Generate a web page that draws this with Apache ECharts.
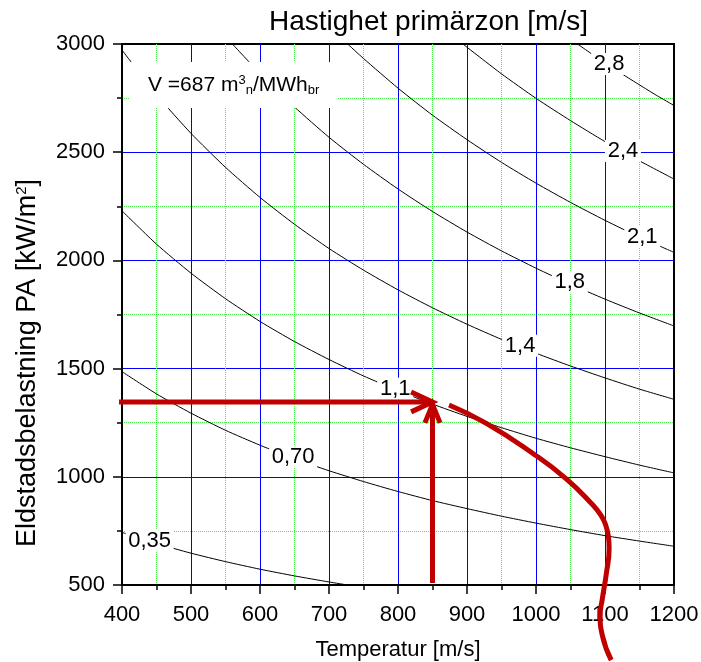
<!DOCTYPE html>
<html>
<head>
    <meta charset="utf-8">
    <script src="https://cdn.jsdelivr.net/npm/echarts@6/dist/echarts.min.js"></script>
    <style>
        html, body { margin: 0; padding: 0; background: #fff; }
        #chart { width: 701px; height: 662px; }
    </style>
</head>
<body>
<div id="chart"></div>
<script type="text/javascript">
    // axis ticks
    var tempTicks = [400, 500, 600, 700, 800, 900, 1000, 1100, 1200];
    var loadTicks = [500, 1000, 1500, 2000, 2500, 3000];

    // velocity curves (temperature / load pairs)
    var temps = [400, 450, 500, 550, 600, 650, 700, 750, 800, 850, 900, 950, 1000, 1050, 1100, 1150, 1200];
    var v035T = [400, 450, 500, 550, 600, 650, 700, 727];
    var v035P = [743, 692, 647, 608, 573, 542, 514, 500];
    var v070P = [1486, 1383, 1294, 1215, 1146, 1083, 1028, 978, 932, 890, 853, 818, 786, 756, 728, 703, 679];
    var v11P = [2229, 2075, 1941, 1823, 1718, 1625, 1542, 1466, 1398, 1336, 1279, 1227, 1178, 1134, 1093, 1054, 1018];
    var v14P = [2972, 2766, 2587, 2430, 2291, 2167, 2055, 1955, 1864, 1781, 1705, 1635, 1571, 1512, 1457, 1405, 1358];
    var v18T = [560, 600, 650, 700, 750, 800, 850, 900, 950, 1000, 1050, 1100, 1150, 1200];
    var v18P = [3000, 2864, 2709, 2569, 2444, 2330, 2226, 2131, 2044, 1964, 1890, 1821, 1757, 1697];
    var v21T = [727, 750, 800, 850, 900, 950, 1000, 1050, 1100, 1150, 1200];
    var v21P = [3000, 2933, 2796, 2671, 2558, 2453, 2357, 2268, 2185, 2108, 2037];
    var v24T = [894, 950, 1000, 1050, 1100, 1150, 1200];
    var v24P = [3000, 2862, 2749, 2646, 2549, 2460, 2376];
    var v28T = [1060, 1080, 1100, 1125, 1150, 1175, 1200];
    var v28P = [3000, 2956, 2913, 2861, 2811, 2762, 2716];

    // curve labels: text and where they sit
    var labelText = ['0,35', '0,70', '1,1', '1,4', '1,8', '2,1', '2,4', '2,8'];
    var labelT = [440, 648, 796, 977, 1049, 1154, 1126, 1106];
    var labelP = [705, 1093, 1407, 1606, 1901, 2109, 2506, 2908];

    // red hand drawn annotation
    var redCurveT = [874, 928, 995, 1043, 1080, 1094, 1101, 1105, 1106, 1102, 1096, 1093, 1096, 1109];
    var redCurveP = [1332, 1247, 1109, 993, 878, 823, 777, 723, 670, 554, 434, 361, 269, 153];
    var hArrowT = [392, 850];
    var hArrowP = [1346, 1346];
    var hHeadT = [819, 850, 819];
    var hHeadP = [1392, 1346, 1300];
    var vArrowT = [850, 850];
    var vArrowP = [509, 1334];
    var vHeadT = [839, 850, 861];
    var vHeadP = [1249, 1334, 1249];

    var FONT = 'Liberation Sans, Arial, sans-serif';

    function zip(a, b) {
        return a.map(function (v, i) { return [v, b[i]]; });
    }

    var curves = [
        [v035T, v035P], [temps, v070P], [temps, v11P], [temps, v14P],
        [v18T, v18P], [v21T, v21P], [v24T, v24P], [v28T, v28P]
    ];

    var series = curves.map(function (c, i) {
        var w = labelText[i].length > 3 ? 48 : 36;
        return {
            type: 'line',
            data: zip(c[0], c[1]),
            smooth: 0.2,
            symbol: 'none',
            lineStyle: { color: '#000', width: 1 },
            markPoint: {
                symbol: 'rect',
                symbolSize: [w, 22],
                itemStyle: { color: '#fff' },
                label: {
                    show: true,
                    position: 'inside',
                    formatter: '{b}',
                    color: '#000',
                    fontSize: 22,
                    fontFamily: FONT
                },
                data: [{ name: labelText[i], coord: [labelT[i], labelP[i]] }]
            }
        };
    });

    function redLine(t, p, smooth) {
        return {
            type: 'line',
            data: zip(t, p),
            smooth: smooth,
            symbol: 'none',
            clip: false,
            z: 10,
            lineStyle: { color: '#c00000', width: 5, cap: 'butt', join: 'miter' }
        };
    }
    series.push(redLine(redCurveT, redCurveP, 0.5));
    series.push(redLine(hArrowT, hArrowP, false));
    series.push(redLine(hHeadT, hHeadP, false));
    series.push(redLine(vArrowT, vArrowP, false));
    series.push(redLine(vHeadT, vHeadP, false));

    function plain(v) { return String(v); }

    var myChart = echarts.init(document.getElementById('chart'));
    myChart.setOption({
        animation: false,
        title: {
            text: 'Hastighet primärzon [m/s]',
            left: 264,
            top: 3,
            textStyle: { color: '#000', fontSize: 28, fontWeight: 'normal', fontFamily: FONT }
        },
        grid: {
            left: 122, right: 27, top: 44, bottom: 77,
            containLabel: false,
            outerBoundsMode: 'none',
            show: true,
            borderColor: '#000',
            borderWidth: 2
        },
        xAxis: {
            type: 'value',
            min: tempTicks[0],
            max: tempTicks[tempTicks.length - 1],
            interval: 100,
            name: 'Temperatur [m/s]',
            nameLocation: 'middle',
            nameGap: 54,
            nameTextStyle: { color: '#000', fontSize: 22, fontFamily: FONT },
            axisLine: { lineStyle: { color: '#000', width: 2 } },
            axisTick: { length: 9, lineStyle: { color: '#000', width: 1.5 } },
            minorTick: { show: true, splitNumber: 2, length: 5, lineStyle: { color: '#000', width: 1.5 } },
            axisLabel: { color: '#000', fontSize: 22, fontFamily: FONT, margin: 19, formatter: plain },
            splitLine: { show: true, showMinLine: false, showMaxLine: false, lineStyle: { color: '#0000ff', width: 1 } },
            minorSplitLine: { show: true, lineStyle: { color: '#44ee44', width: 1, type: [1, 1] } }
        },
        yAxis: {
            type: 'value',
            min: loadTicks[0],
            max: loadTicks[loadTicks.length - 1],
            interval: 500,
            axisLine: { show: true, lineStyle: { color: '#000', width: 2 } },
            axisTick: { show: true, length: 9, lineStyle: { color: '#000', width: 1.5 } },
            minorTick: { show: true, splitNumber: 2, length: 5, lineStyle: { color: '#000', width: 1.5 } },
            axisLabel: { color: '#000', fontSize: 22, fontFamily: FONT, margin: 17, formatter: plain },
            splitLine: { show: true, showMinLine: false, showMaxLine: false, lineStyle: { color: '#0000ff', width: 1 } },
            minorSplitLine: { show: true, lineStyle: { color: '#44ee44', width: 1, type: [1, 1] } }
        },
        graphic: [
            // y axis name with superscript
            {
                type: 'text',
                x: 28,
                y: 363,
                rotation: Math.PI / 2,
                z: 10,
                style: {
                    text: 'Eldstadsbelastning PA [kW/m{sup|2}]',
                    fill: '#000',
                    fontSize: 27,
                    fontFamily: FONT,
                    align: 'center',
                    verticalAlign: 'middle',
                    rich: {
                        sup: { fontSize: 15, fontFamily: FONT, fill: '#000', verticalAlign: 'top' }
                    }
                }
            },
            // white box behind the flow note
            {
                type: 'rect',
                z: 10,
                shape: { x: 130, y: 62, width: 207, height: 46 },
                style: { fill: '#fff' }
            },
            {
                type: 'text',
                x: 148,
                y: 85,
                z: 11,
                style: {
                    text: 'V =687 m{sup|3}{sub|n}/MWh{sub|br}',
                    fill: '#000',
                    fontSize: 21,
                    fontFamily: FONT,
                    align: 'left',
                    verticalAlign: 'middle',
                    rich: {
                        sup: { fontSize: 13, fontFamily: FONT, fill: '#000', verticalAlign: 'top', padding: [0, 0, 10, 0] },
                        sub: { fontSize: 13, fontFamily: FONT, fill: '#000', verticalAlign: 'bottom', padding: [10, 0, 0, 0] }
                    }
                }
            }
        ],
        series: series
    });
</script>
</body>
</html>
